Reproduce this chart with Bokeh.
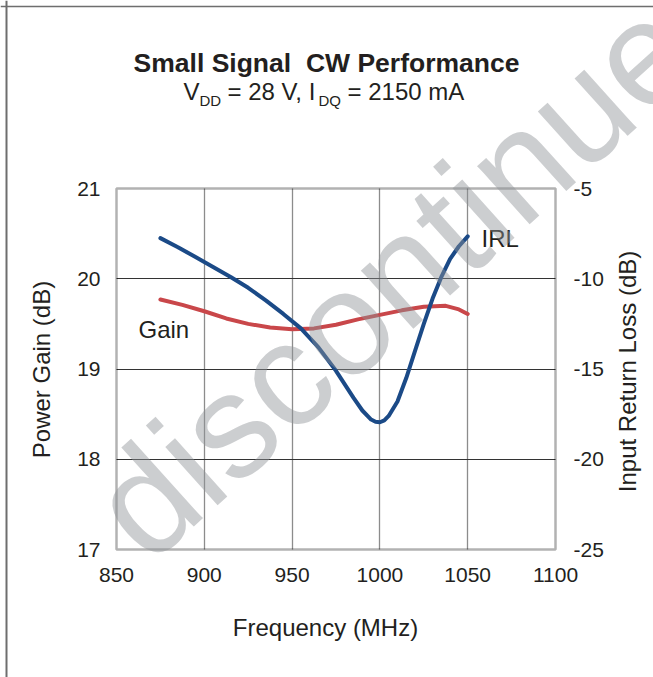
from bokeh.plotting import figure
from bokeh.models import Range1d, LinearAxis, Label, FixedTicker, Span, BoxAnnotation, Grid
from bokeh.embed import file_html
from bokeh.resources import INLINE

# ---- data ----
x_ticks = [850, 900, 950, 1000, 1050, 1100]
gain_ticks = [17, 18, 19, 20, 21]
irl_ticks = [-25, -20, -15, -10, -5]

gain_freq = [875, 887.5, 900, 912.5, 925, 937.5, 950, 962.5, 975, 987.5,
             1000, 1012.5, 1025, 1037.5, 1045, 1050]
gain_db = [19.77, 19.71, 19.64, 19.56, 19.50, 19.46, 19.44, 19.45, 19.49, 19.55,
           19.60, 19.65, 19.69, 19.70, 19.66, 19.61]

irl_freq = [875, 885, 895, 905, 915, 925, 935, 945, 955, 965, 975, 985, 990,
            995, 997.5, 1000, 1002.5, 1005, 1010, 1015, 1020, 1025, 1030, 1035,
            1040, 1045, 1050]
irl_db = [-7.75, -8.25, -8.8, -9.35, -9.9, -10.5, -11.2, -11.95, -12.75, -13.8,
          -15.1, -16.6, -17.3, -17.8, -17.92, -17.95, -17.85, -17.6, -16.8,
          -15.5, -14.0, -12.5, -11.1, -9.9, -8.9, -8.2, -7.65]

FONT = "Liberation Sans"
TXT = "#231f20"

W, H = 653, 677
# pixel box of the plotting area inside the canvas
BL, BR, BT, BB = 116, 555, 188, 549
X0, X1 = x_ticks[0], x_ticks[-1]
Y0, Y1 = gain_ticks[0], gain_ticks[-1]
R0, R1 = irl_ticks[0], irl_ticks[-1]

kx = (BR - BL) / (X1 - X0)
ky = (BB - BT) / (Y1 - Y0)
kr = (BB - BT) / (R1 - R0)

p = figure(width=W, height=H,
           x_range=Range1d(X0 - BL / kx, X1 + (W - BR) / kx),
           y_range=Range1d(Y0 - (H - BB) / ky, Y1 + BT / ky),
           output_backend="svg", toolbar_location=None, title=None,
           min_border=0, min_border_left=0, min_border_right=0,
           min_border_top=0, min_border_bottom=0,
           x_axis_location=None, y_axis_location=None)
# drop any default grids
p.center = [r for r in p.center if not isinstance(r, Grid)]
p.extra_y_ranges = {"irl": Range1d(R0 - (H - BB) / kr, R1 + BT / kr)}
p.background_fill_color = "white"
p.border_fill_color = "white"
p.outline_line_color = None

# ---- axes fixed to the edges of the plotting box ----
bottom = LinearAxis(ticker=FixedTicker(ticks=x_ticks), fixed_location=Y0)
left = LinearAxis(ticker=FixedTicker(ticks=gain_ticks), fixed_location=X0)
right = LinearAxis(y_range_name="irl", ticker=FixedTicker(ticks=irl_ticks),
                   fixed_location=X1,
                   major_label_overrides={t: str(t) for t in irl_ticks})
p.add_layout(bottom, "below")
p.add_layout(left, "left")
p.add_layout(right, "right")

for ax in [bottom, left, right]:
    ax.axis_line_color = None
    ax.major_tick_line_color = None
    ax.minor_tick_line_color = None
    ax.major_tick_out = 0
    ax.major_tick_in = 0
    ax.minor_tick_out = 0
    ax.minor_tick_in = 0
    ax.major_label_text_font = FONT
    ax.major_label_text_font_size = "21px"
    ax.major_label_text_color = TXT

left.major_label_standoff = 16
right.major_label_standoff = 18
bottom.major_label_standoff = 18

# ---- grid limited to the plotting box ----
xgrid = Grid(dimension=0, ticker=FixedTicker(ticks=x_ticks[1:-1]),
             grid_line_color="#8c8c8c", grid_line_width=1.3)
ygrid = Grid(dimension=1, ticker=FixedTicker(ticks=gain_ticks[1:-1]),
             grid_line_color="#333333", grid_line_width=1.0)
if "cross_bounds" in Grid.properties():
    xgrid.cross_bounds = (Y0, Y1)
    ygrid.cross_bounds = (X0, X1)
    p.add_layout(xgrid, "center")
    p.add_layout(ygrid, "center")
else:
    p.segment(x0=x_ticks[1:-1], x1=x_ticks[1:-1], y0=Y0, y1=Y1,
              line_color="#8c8c8c", line_width=1.3, level="underlay")
    p.segment(x0=X0, x1=X1, y0=gain_ticks[1:-1], y1=gain_ticks[1:-1],
              line_color="#333333", line_width=1.0, level="underlay")

p.add_layout(BoxAnnotation(left=X0, right=X1, bottom=Y0, top=Y1,
                           fill_color=None, fill_alpha=0,
                           line_color="black", line_width=2.5))

# ---- curves ----
p.line(gain_freq, gain_db, line_color="#c9474a", line_width=4,
       line_cap="round", line_join="round")
p.line(irl_freq, irl_db, y_range_name="irl", line_color="#1b4a87", line_width=4,
       line_cap="round", line_join="round")


# helpers: canvas pixel -> data coordinates
def dx(px):
    return X0 + (px - BL) / kx


def dy(py):
    return Y1 - (py - BT) / ky


def lab(text, px, py, size, align="left", style="normal", angle=0, color=TXT,
        alpha=1.0, baseline="middle"):
    p.add_layout(Label(x=dx(px), y=dy(py), text=text, text_font=FONT,
                       text_font_size=size, text_font_style=style, text_align=align,
                       text_baseline=baseline, text_color=color, text_alpha=alpha,
                       angle=angle, angle_units="deg"))


# page frame (left and top rules)
p.add_layout(Span(location=dx(6), dimension="height", line_color="#6e6e6e", line_width=2))
p.add_layout(Span(location=dy(6), dimension="width", line_color="#6e6e6e", line_width=1.5))

# titles (y = vertical centre of the capitals)
lab("Small Signal\u00a0 CW Performance", 326, 62, "26.5px", align="center", style="bold")
lab("V", 183, 91, "24px")
lab("DD", 199, 100, "15px")
lab("= 28 V, I", 227, 91, "24px")
lab("DQ", 318, 100, "15px")
lab("= 2150 mA", 347, 91, "24px")

# axis titles
lab("Frequency (MHz)", 325, 627, "24px", align="center")
lab("Power Gain (dB)", 41, 369, "24px", align="center", angle=90)
lab("Input Return Loss (dB)", 627, 371, "24px", align="center", angle=90)

# curve labels
lab("Gain", 138, 329, "24px")
lab("IRL", 481, 238, "24px")

# watermark
lab("discontinued", 114, 528, "148px", angle=42, color="#8f9297", alpha=0.45)

open("out.html", "w").write(file_html(p, INLINE))
